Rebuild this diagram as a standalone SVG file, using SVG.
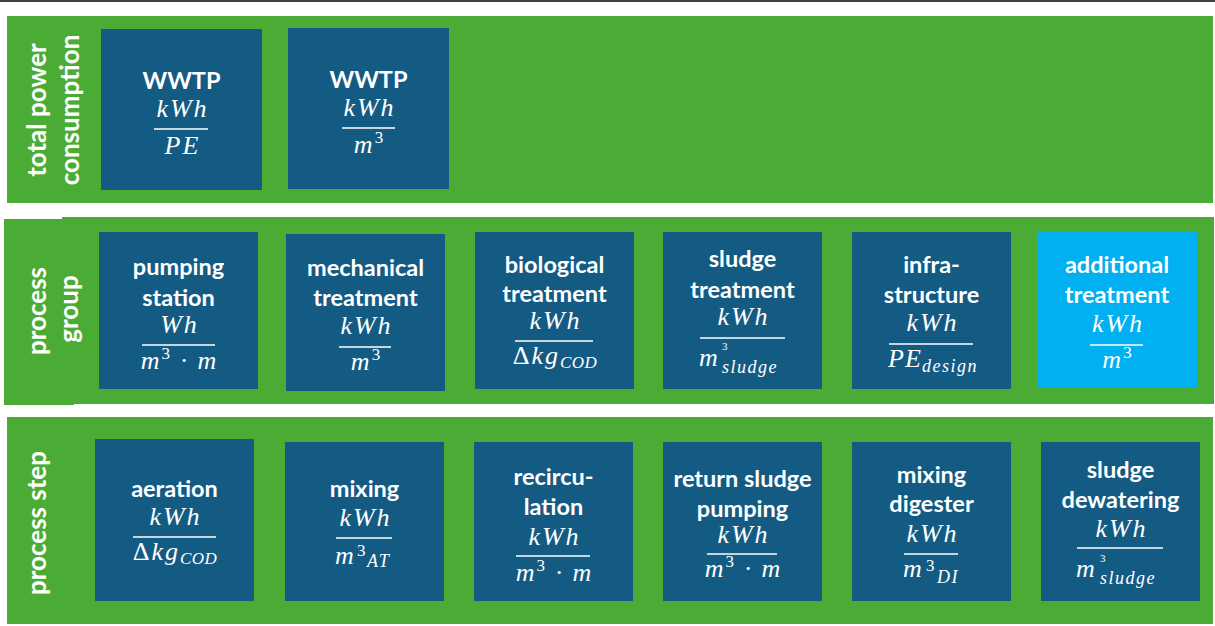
<svg xmlns="http://www.w3.org/2000/svg" width="1215" height="626" viewBox="0 0 1215 626">
<style>
.band{fill:#4BAC35}
.box{fill:#145B84}
.box2{fill:#00B0F0}
.lbl{font-family:Lato,"Open Sans",sans-serif;font-weight:bold;font-size:26px;fill:#fff;text-anchor:middle}
.t{font-family:Lato,"Open Sans",sans-serif;font-weight:bold;font-size:23.5px;fill:#fff;text-anchor:middle}
.m{font-family:"Liberation Serif",serif;font-style:italic;font-size:26px;fill:#fff;text-anchor:middle;letter-spacing:2px}
.ms{font-family:"Liberation Serif",serif;font-style:italic;font-size:26px;fill:#fff;letter-spacing:1px}
.sub{font-family:"Liberation Serif",serif;font-style:italic;font-size:18px;fill:#fff;letter-spacing:1.5px}
.sup{font-family:"Liberation Serif",serif;font-style:normal;font-size:17px;fill:#fff}
.sup2{font-family:"Liberation Serif",serif;font-style:normal;font-size:11px;fill:#fff}
.up{font-style:normal}
.bar{stroke:#fff;stroke-width:1.5}
</style>
<line x1="0" y1="1" x2="1215" y2="1" stroke="#000" stroke-width="1.5"/>
<g id="bands">
<rect class="band" x="7" y="16" width="1206" height="187"/>
<rect class="band" x="62" y="217" width="1152" height="187"/>
<rect class="band" x="4" y="219" width="70" height="186"/>
<rect class="band" x="7" y="417" width="1206" height="207"/>
</g>
<g id="label-total">
<text class="lbl" transform="translate(46,110) rotate(-90)">total power</text>
<text class="lbl" transform="translate(79,110) rotate(-90)">consumption</text>
</g>
<g id="label-group">
<text class="lbl" transform="translate(46,311) rotate(-90)">process</text>
<text class="lbl" transform="translate(78,309) rotate(-90)">group</text>
</g>
<g id="label-step">
<text class="lbl" transform="translate(46,523) rotate(-90)">process step</text>
</g>
<g id="connectors"></g>

<g id="wwtp-pe">
<rect class="box" x="101" y="29" width="161" height="161"/>
<text class="t" x="181.5" y="89">WWTP</text>
<text class="m" x="182.5" y="117">kWh</text>
<line class="bar" x1="154" y1="129" x2="208" y2="129"/>
<text class="m" x="182.5" y="154">PE</text>
</g>
<g id="wwtp-m3">
<rect class="box" x="288" y="28" width="161" height="161"/>
<text class="t" x="368.5" y="88">WWTP</text>
<text class="m" x="369.5" y="116">kWh</text>
<line class="bar" x1="342" y1="128" x2="395" y2="128"/>
<text class="m" x="369.5" y="153">m<tspan class="sup" dy="-10">3</tspan></text>
</g>

<g id="pumping-station">
<rect class="box" x="99" y="232" width="159" height="157"/>
<text class="t" x="178.5" y="275">pumping</text>
<text class="t" x="178.5" y="306">station</text>
<text class="m" x="179.5" y="333">Wh</text>
<line class="bar" x1="142" y1="345" x2="215" y2="345"/>
<text class="m" x="179.5" y="369">m<tspan class="sup" dy="-10">3</tspan><tspan dy="10"> · m</tspan></text>
</g>
<g id="mechanical-treatment">
<rect class="box" x="286" y="234" width="159" height="157"/>
<text class="t" x="365.5" y="276">mechanical</text>
<text class="t" x="365.5" y="306">treatment</text>
<text class="m" x="366.5" y="334">kWh</text>
<line class="bar" x1="339" y1="347" x2="391" y2="347"/>
<text class="m" x="366.5" y="370">m<tspan class="sup" dy="-10">3</tspan></text>
</g>
<g id="biological-treatment">
<rect class="box" x="475" y="232" width="159" height="157"/>
<text class="t" x="554.5" y="273">biological</text>
<text class="t" x="554.5" y="302">treatment</text>
<text class="m" x="555.5" y="329">kWh</text>
<line class="bar" x1="515" y1="341" x2="593" y2="341"/>
<text class="m" x="555" y="364"><tspan class="up">Δ</tspan>kg<tspan font-size="17" dy="4" letter-spacing="0.5">COD</tspan></text>
</g>
<g id="sludge-treatment">
<rect class="box" x="663" y="232" width="159" height="157"/>
<text class="t" x="742.5" y="267">sludge</text>
<text class="t" x="742.5" y="298">treatment</text>
<text class="m" x="743.5" y="325">kWh</text>
<line class="bar" x1="700" y1="338" x2="785" y2="338"/>
<text class="ms" x="699" y="366">m</text>
<text class="sup2" x="722" y="350">3</text>
<text class="sub" x="722" y="373">sludge</text>
</g>
<g id="infrastructure">
<rect class="box" x="852" y="232" width="159" height="157"/>
<text class="t" x="931.5" y="273">infra-</text>
<text class="t" x="931.5" y="303">structure</text>
<text class="m" x="932.5" y="331">kWh</text>
<line class="bar" x1="889" y1="344" x2="973" y2="344"/>
<text class="ms" x="888" y="367" letter-spacing="1.5">PE</text>
<text class="sub" x="922" y="372">design</text>
</g>
<g id="additional-treatment">
<rect class="box2" x="1037" y="231" width="160" height="157"/>
<text class="t" x="1117" y="273">additional</text>
<text class="t" x="1117" y="303">treatment</text>
<text class="m" x="1118" y="332">kWh</text>
<line class="bar" x1="1090" y1="345" x2="1143" y2="345"/>
<text class="m" x="1118" y="368">m<tspan class="sup" dy="-10">3</tspan></text>
</g>

<g id="aeration">
<rect class="box" x="95" y="439" width="159" height="162"/>
<text class="t" x="174.5" y="497">aeration</text>
<text class="m" x="175.5" y="525">kWh</text>
<line class="bar" x1="133" y1="537" x2="216" y2="537"/>
<text class="m" x="175" y="560"><tspan class="up">Δ</tspan>kg<tspan font-size="17" dy="4" letter-spacing="0.5">COD</tspan></text>
</g>
<g id="mixing">
<rect class="box" x="285" y="442" width="159" height="159"/>
<text class="t" x="364.5" y="497">mixing</text>
<text class="m" x="365.5" y="526">kWh</text>
<line class="bar" x1="336" y1="538" x2="392" y2="538"/>
<text class="ms" x="335" y="564">m</text>
<text class="sup" x="357" y="556">3</text>
<text class="sub" x="367" y="567">AT</text>
</g>
<g id="recirculation">
<rect class="box" x="474" y="442" width="159" height="159"/>
<text class="t" x="553.5" y="485">recircu-</text>
<text class="t" x="553.5" y="515">lation</text>
<text class="m" x="554.5" y="545">kWh</text>
<line class="bar" x1="516" y1="556" x2="590" y2="556"/>
<text class="m" x="554.5" y="581">m<tspan class="sup" dy="-10">3</tspan><tspan dy="10"> · m</tspan></text>
</g>
<g id="return-sludge-pumping">
<rect class="box" x="663" y="442" width="159" height="159"/>
<text class="t" x="742.5" y="487">return sludge</text>
<text class="t" x="742.5" y="517">pumping</text>
<text class="m" x="743.5" y="543">kWh</text>
<line class="bar" x1="707" y1="554" x2="777" y2="554"/>
<text class="m" x="743.5" y="577">m<tspan class="sup" dy="-10">3</tspan><tspan dy="10"> · m</tspan></text>
</g>
<g id="mixing-digester">
<rect class="box" x="852" y="442" width="159" height="159"/>
<text class="t" x="931.5" y="483">mixing</text>
<text class="t" x="931.5" y="512">digester</text>
<text class="m" x="932.5" y="542">kWh</text>
<line class="bar" x1="904" y1="554" x2="958" y2="554"/>
<text class="ms" x="903" y="577">m</text>
<text class="sup" x="926" y="571">3</text>
<text class="sub" x="937" y="583">DI</text>
</g>
<g id="sludge-dewatering">
<rect class="box" x="1041" y="442" width="159" height="159"/>
<text class="t" x="1120.5" y="478">sludge</text>
<text class="t" x="1120.5" y="508">dewatering</text>
<text class="m" x="1121.5" y="537">kWh</text>
<line class="bar" x1="1077" y1="548" x2="1163" y2="548"/>
<text class="ms" x="1076" y="577">m</text>
<text class="sup2" x="1100" y="562">3</text>
<text class="sub" x="1100" y="584">sludge</text>
</g>
</svg>
